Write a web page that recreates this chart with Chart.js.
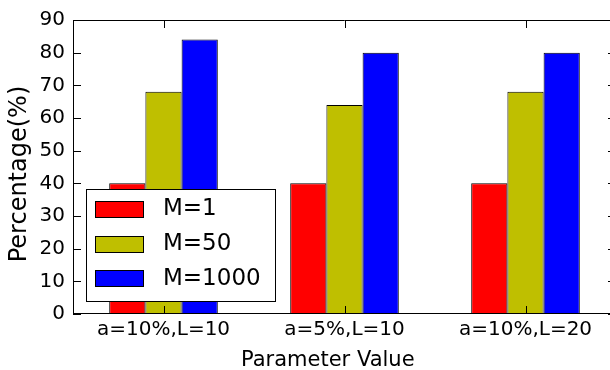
<!DOCTYPE html>
<html><head><meta charset="utf-8">
<script src="https://cdn.jsdelivr.net/npm/chart.js@4/dist/chart.umd.min.js"></script>
<style>
html,body{margin:0;padding:0;background:#fff;overflow:hidden;width:610px;height:370px}
#c{display:block}
</style></head>
<body>
<canvas id="c" width="620" height="370" style="width:620px;height:370px"></canvas>
<script>
const categories = ['a=10%,L=10', 'a=5%,L=10', 'a=10%,L=20'];
const seriesNames = ['M=1', 'M=50', 'M=1000'];
const seriesM1 = [40, 40, 40];
const seriesM50 = [68, 64, 68];
const seriesM1000 = [84, 80, 80];
const yTicks = [0, 10, 20, 30, 40, 50, 60, 70, 80, 90];
const seriesColors = ['#ff0000', '#bfbf00', '#0000ff'];
const xTitle = 'Parameter Value';
const yTitle = 'Percentage(%)';

Chart.defaults.font.family = "'DejaVu Sans', sans-serif";

const framePlugin = {
  id: 'frame',
  afterDatasetsDraw(chart) {
    const ctx = chart.ctx;
    const a = chart.chartArea;
    const xs = chart.scales.x, ys = chart.scales.y;
    ctx.save();
    ctx.strokeStyle = '#000';
    ctx.lineWidth = 1;
    // spines
    ctx.beginPath();
    ctx.moveTo(a.left + 0.5, a.top); ctx.lineTo(a.left + 0.5, a.bottom);
    ctx.moveTo(a.left, a.bottom - 0.5); ctx.lineTo(a.right, a.bottom - 0.5);
    ctx.moveTo(a.left, a.top + 0.5); ctx.lineTo(a.right, a.top + 0.5);
    ctx.moveTo(a.right - 0.5, a.top); ctx.lineTo(a.right - 0.5, a.bottom);
    ctx.stroke();
    // inward ticks
    const tl = 8;
    ctx.beginPath();
    yTicks.forEach(v => {
      const y = Math.round(ys.getPixelForValue(v)) + 0.5;
      ctx.moveTo(a.left, y); ctx.lineTo(a.left + tl, y);
      ctx.moveTo(a.right, y); ctx.lineTo(a.right - tl, y);
    });
    categories.forEach((c, i) => {
      const x = Math.round(xs.getPixelForValue(i)) + 0.5;
      ctx.moveTo(x, a.bottom); ctx.lineTo(x, a.bottom - tl);
      ctx.moveTo(x, a.top); ctx.lineTo(x, a.top + tl);
    });
    ctx.stroke();

    // legend inside plot (lower left)
    const bx = 86, by = 189, bw = 189, bh = 112;
    ctx.fillStyle = '#fff';
    ctx.fillRect(bx, by, bw, bh);
    ctx.strokeRect(bx + 0.5, by + 0.5, bw, bh);
    ctx.font = "23px 'DejaVu Sans', sans-serif";
    ctx.textBaseline = 'middle';
    ctx.textAlign = 'left';
    chart.data.datasets.forEach((ds, i) => {
      const cy = 209 + i * 34.7;
      const top = Math.round(cy - 8);
      ctx.fillStyle = ds.backgroundColor;
      ctx.fillRect(95, top, 49, 17);
      ctx.strokeRect(95.5, top + 0.5, 48, 16);
      ctx.fillStyle = '#000';
      ctx.fillText(ds.label, 163, cy + 0.5);
    });

    // axis titles
    ctx.fillStyle = '#000';
    ctx.font = "21px 'DejaVu Sans', sans-serif";
    ctx.textAlign = 'left';
    ctx.textBaseline = 'middle';
    ctx.fillText(xTitle, 241, 360.5);
    ctx.save();
    ctx.translate(20, 174);
    ctx.rotate(-Math.PI / 2);
    ctx.font = "24px 'DejaVu Sans', sans-serif";
    ctx.textAlign = 'center';
    ctx.fillText(yTitle, 0, 0);
    ctx.restore();
    ctx.restore();
  }
};

const seriesData = [seriesM1, seriesM50, seriesM1000];
new Chart(document.getElementById('c'), {
  type: 'bar',
  data: {
    labels: categories,
    datasets: seriesNames.map((n, i) => ({
      label: n,
      data: seriesData[i],
      backgroundColor: seriesColors[i],
      borderColor: '#000',
      borderWidth: 1,
      borderSkipped: false
    }))
  },
  options: {
    responsive: false,
    animation: false,
    devicePixelRatio: 1,
    layout: { padding: { top: 20, right: 4, left: 0, bottom: 0 } },
    plugins: { legend: { display: false }, tooltip: { enabled: false } },
    datasets: { bar: { barPercentage: 1, categoryPercentage: 0.6 } },
    scales: {
      x: {
        grid: { display: false, drawTicks: false },
        border: { display: false },
        ticks: { padding: 4, color: '#000', font: { size: 20 }, maxRotation: 0, autoSkip: false },
        afterFit: s => { s.height = 56; }
      },
      y: {
        min: 0, max: 90,
        grid: { display: false, drawTicks: false },
        border: { display: false },
        ticks: { padding: 8, color: '#000', font: { size: 20 } },
        afterBuildTicks: s => { s.ticks = yTicks.map(v => ({ value: v })); },
        afterFit: s => { s.width = 73; }
      }
    }
  },
  plugins: [framePlugin]
});
</script>
</body></html>
